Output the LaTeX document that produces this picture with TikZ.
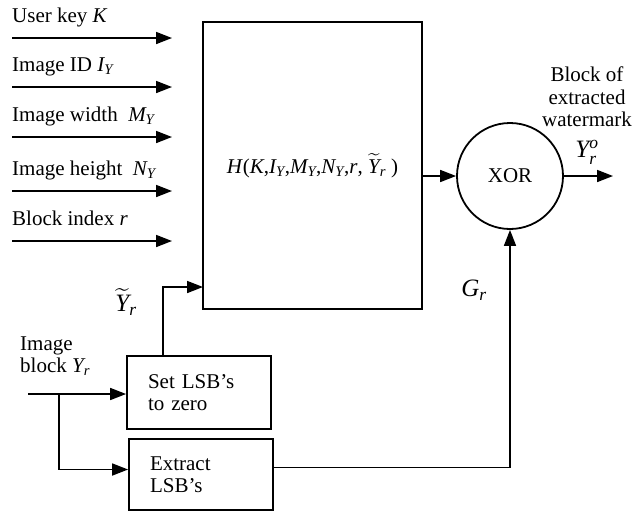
\documentclass[tikz,border=0pt]{standalone}
\usepackage{amsmath}
\usepackage{fontspec}
\setmainfont{Liberation Serif}
\usetikzlibrary{arrows.meta,positioning}

\newcommand{\iv}[1]{\textit{#1}}

\tikzset{
	blk/.style={draw, line width=1.8pt, rectangle, inner sep=0pt},
	flow/.style={line width=1.7pt, -{Triangle[length=16pt,width=12pt]}},
	lbl/.style={font=\fontsize{21}{22.5}\selectfont, inner sep=0pt},
	biglbl/.style={font=\fontsize{25}{26}\selectfont, inner sep=0pt},
}

\begin{document}
\begin{tikzpicture}[x=1pt,y=1pt]
	\useasboundingbox (0,0) rectangle (636,-515);
	
	% hash block
	\node[blk, lbl, minimum width=219pt, minimum height=287pt] (hash) at (312.5,-165.5)
		{\iv{H}(\iv{K},$\iv{I}_{\iv{Y}}$,$\iv{M}_{\iv{Y}}$,$\iv{N}_{\iv{Y}}$,\iv{r}, $\widetilde{\iv{Y}}_{\iv{r}}$\ )};
	
	% key inputs
	\foreach \yy/\txt [count=\i] in {38/{User key \iv{K}}, 87/{Image ID $\iv{I}_{\iv{Y}}$},
		137/{Image width \ $\iv{M}_{\iv{Y}}$}, 191/{Image height \ $\iv{N}_{\iv{Y}}$},
		241/{Block index \iv{r}}}{
		\coordinate (in\i) at (12,-\yy);
		\coordinate (tip\i) at (172,-\yy);
		\node[lbl, anchor=base west] (lab\i) at (12,-\yy+16) {\txt};
		\draw[flow] (in\i) -- (tip\i);
	}
	
	% xor
	\node[draw, circle, line width=1.8pt, lbl, minimum size=106pt] (xor) at (510,-176) {XOR};
	\coordinate (out) at (613,-176);
	\draw[flow] (hash.east |- xor) -- (xor.west);
	\draw[flow] (xor.east) -- (out);
	\node[biglbl] (yro) at (587,-152) {$\iv{Y}^{\iv{o}}_{\iv{r}}$};
	\node[lbl, align=center] (wmk) at (587,-97) {Block of\\extracted\\watermark};
	
	% LSB blocks
	\node[blk, lbl, text width=102pt, align=left, inner xsep=21pt, minimum height=73pt]
		(setlsb) at (199,-392.5) {Set LSB’s\\to zero};
	\node[blk, lbl, text width=102pt, align=left, inner xsep=21pt, minimum height=71pt]
		(extract) at (201,-474.5) {Extract\\LSB’s};
	
	% image block input
	\coordinate (imgin) at (28,-394);
	\coordinate (split) at (59,-394);
	\node[lbl, anchor=west, align=left] (imglab) at (20,-356) {Image\\block $\iv{Y}_{\iv{r}}$};
	\draw[flow] (imgin) -- (imgin -| setlsb.west);
	\draw[flow] (split) |- ([yshift=5pt]extract.west);
	
	% tilde Y to hash
	\coordinate (ytip) at (203,-287);
	\draw[flow] ([xshift=-36pt]setlsb.north) |- (ytip);
	\node[biglbl] (ytl) at (126,-302) {$\widetilde{\iv{Y}}_{\iv{r}}$};
	
	% G_r to xor
	\draw[flow] ([yshift=7pt]extract.east) -| (xor.south);
	\node[biglbl] (grl) at (474,-290) {$\iv{G}_{\iv{r}}$};
\end{tikzpicture}
\end{document}
